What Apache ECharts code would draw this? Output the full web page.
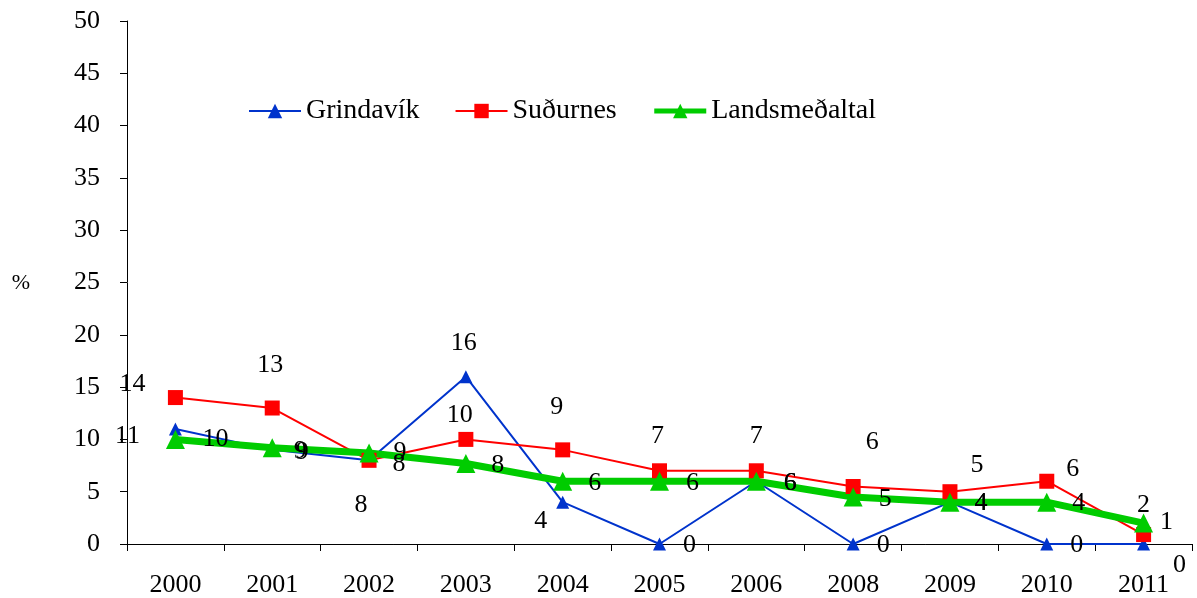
<!DOCTYPE html>
<html>
<head>
<meta charset="utf-8">
<script src="https://cdn.jsdelivr.net/npm/echarts@6/dist/echarts.min.js"></script>
<style>
html,body{margin:0;padding:0;background:#fff;}
#chart{width:1197px;height:598px;}
</style>
</head>
<body>
<div id="chart"></div>
<script>
// ---- data ----
const years = ['2000','2001','2002','2003','2004','2005','2006','2008','2009','2010','2011'];
const grindavik = [11, 9, 8, 16, 4, 0, 6, 0, 4, 0, 0];
const sudurnes = [14, 13, 8, 10, 9, 7, 7, 5.5, 5, 6, 0.9];
const landsmedaltal = [10, 9.2, 8.7, 7.7, 6, 6, 6, 4.5, 4, 4, 2];
const seriesNames = ['Grindavík', 'Suðurnes', 'Landsmeðaltal'];
const yTicks = [0, 5, 10, 15, 20, 25, 30, 35, 40, 45, 50];

// ---- label offsets (styling) ----
const offG = [[-48,7],[30,2],[-8,45],[-2,-33],[-22,19],[30,1],[34,2],[30,1],[31,1],[30,1],[36,21]];
const offS = [[-43,-13],[-2,-43],[30,4],[-6,-24],[-6,-43],[-2,-35],[0,-35],[19,-44],[27,-27],[26,-12],[23,-12]];
const offL = [[40,0],[28,3],[31,-1],[32,2],[32,2],[33,2],[34,2],[32,2],[31,1],[32,1],[0,-18]];

const FONT = '"Liberation Serif", "Times New Roman", serif';
const colors = ['#0033cc', '#ff0000', '#00cc00'];
const legendLineWidths = [2, 2, 5];

function build(vals, offs) {
  return vals.map((v, i) => ({
    value: v,
    label: { offset: offs[i] }
  }));
}
const labelBase = {
  show: true,
  position: 'inside',
  align: 'center',
  verticalAlign: 'middle',
  fontFamily: FONT,
  fontSize: 26,
  color: '#000',
  formatter: p => Math.round(p.value)
};

const chart = echarts.init(document.getElementById('chart'), null, {renderer: 'canvas'});
chart.setOption({
  animation: false,
  backgroundColor: '#fff',
  grid: { left: 127, right: 5, top: 21, bottom: 54, containLabel: false },
  legend: {
    left: 248, top: 97, padding: 0,
    itemWidth: 52, itemHeight: 18, itemGap: 35,
    textStyle: { fontFamily: FONT, fontSize: 28, color: '#000' },
    data: seriesNames.map((n, i) => ({ name: n, lineStyle: { width: legendLineWidths[i], color: colors[i] } }))
  },
  graphic: [{
    type: 'text', x: 21, y: 283,
    style: { text: '%', fontFamily: FONT, fontSize: 22, fill: '#000', align: 'center', verticalAlign: 'middle' }
  }],
  xAxis: {
    type: 'category',
    data: years,
    boundaryGap: true,
    axisLine: { lineStyle: { color: '#000', width: 1 } },
    axisTick: { show: true, length: 7, lineStyle: { color: '#000' }, alignWithLabel: false },
    axisLabel: { fontFamily: FONT, fontSize: 26, color: '#000', margin: 28, interval: 0 },
    splitLine: { show: false }
  },
  yAxis: {
    type: 'value',
    min: yTicks[0], max: yTicks[yTicks.length - 1], interval: 5,
    axisLine: { show: true, lineStyle: { color: '#000', width: 1 } },
    axisTick: { show: true, length: 7, lineStyle: { color: '#000' } },
    axisLabel: { fontFamily: FONT, fontSize: 26, color: '#000', margin: 27 },
    splitLine: { show: false }
  },
  series: [
    {
      name: seriesNames[0], type: 'line',
      data: build(grindavik, offG),
      symbol: 'triangle', symbolSize: 13,
      lineStyle: { color: colors[0], width: 2 },
      itemStyle: { color: colors[0] },
      label: labelBase
    },
    {
      name: seriesNames[1], type: 'line',
      data: build(sudurnes, offS),
      symbol: 'rect', symbolSize: 15,
      lineStyle: { color: colors[1], width: 2 },
      itemStyle: { color: colors[1] },
      label: labelBase
    },
    {
      name: seriesNames[2], type: 'line',
      data: build(landsmedaltal, offL),
      symbol: 'triangle', symbolSize: 19,
      lineStyle: { color: colors[2], width: 7 },
      itemStyle: { color: colors[2] },
      label: labelBase
    }
  ]
});
</script>
</body>
</html>
